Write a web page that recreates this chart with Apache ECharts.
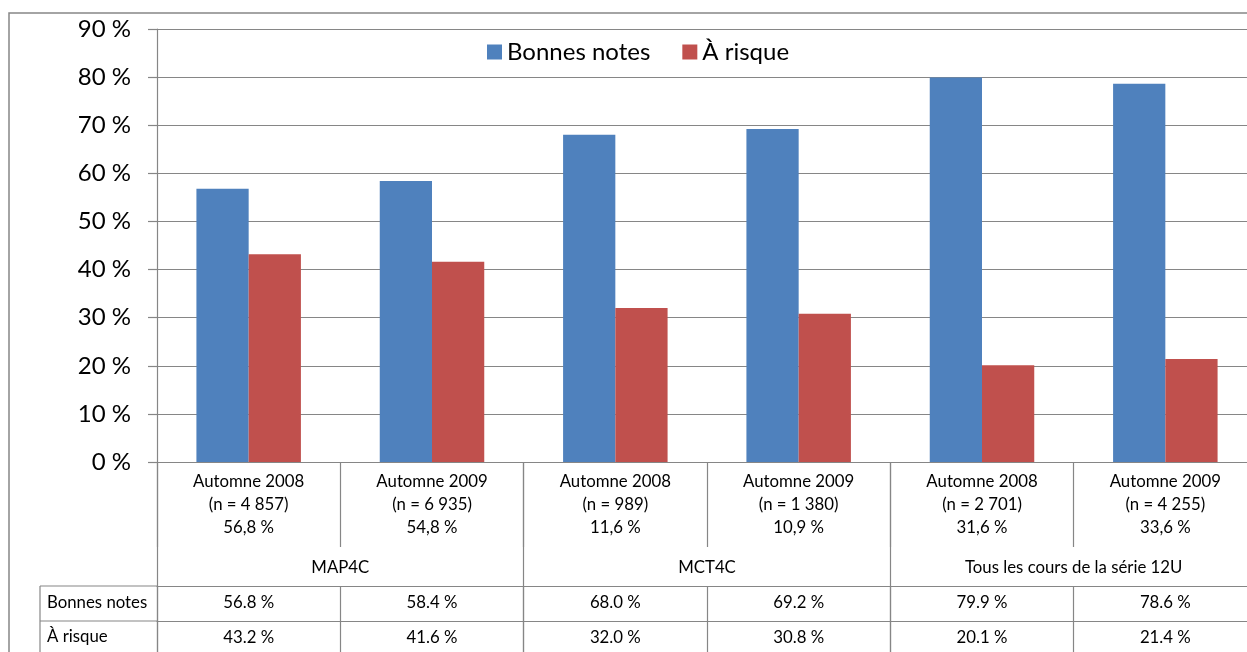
<!DOCTYPE html>
<html>
<head>
<meta charset="utf-8">
<script src="https://cdn.jsdelivr.net/npm/echarts@6/dist/echarts.min.js"></script>
<style>
html,body{margin:0;padding:0;background:#fff;}
#main{width:1247px;height:652px;}
</style>
</head>
<body>
<div id="main"></div>
<script>
const periods = ['Automne 2008','Automne 2009','Automne 2008','Automne 2009','Automne 2008','Automne 2009'];
const sampleSizes = ['4 857','6 935','989','1 380','2 701','4 255'];
const shares = ['56,8 %','54,8 %','11,6 %','10,9 %','31,6 %','33,6 %'];
const groups = ['MAP4C','MCT4C','Tous les cours de la série 12U'];
const seriesNames = ['Bonnes notes','À risque'];
const goodGrades = [56.8,58.4,68.0,69.2,79.9,78.6];
const atRisk = [43.2,41.6,32.0,30.8,20.1,21.4];

const FONT = 'Lato';
const LINE = '#868686';
const SMALL = 16.8;
const catLabels = periods.map((p,i)=>p+'\n(n = '+sampleSizes[i]+')\n'+shares[i]);
const fmt = v => v.toFixed(1)+' %';

const chart = echarts.init(document.getElementById('main'));
const tableAxis = (offset, values, tickLen) => ({
  type:'category', gridIndex:0, position:'bottom', offset:offset,
  data: values.map(fmt),
  axisLine:{show:true, lineStyle:{color:LINE, width:1.2}},
  axisTick:{show:true, interval:0, length:tickLen, lineStyle:{color:LINE, width:1.2}},
  axisLabel:{interval:0, margin:7, fontFamily:FONT, fontSize:SMALL, color:'#000', lineHeight:20},
  splitLine:{show:false}
});

chart.setOption({
  animation:false,
  textStyle:{fontFamily:FONT},
  grid:{left:157, top:29, width:1100, height:433, containLabel:false, outerBoundsMode:'none'},
  legend:{
    data:seriesNames, left:487, top:40, padding:0, itemGap:32,
    icon:'rect', itemWidth:15, itemHeight:15,
    textStyle:{fontFamily:FONT, fontSize:24, color:'#000'}
  },
  xAxis:[
    {
      type:'category', gridIndex:0, position:'bottom', data:catLabels,
      axisLine:{show:true, lineStyle:{color:LINE, width:1.2}},
      axisTick:{show:true, interval:0, length:85, lineStyle:{color:LINE, width:1.2}},
      axisLabel:{interval:0, margin:8, fontFamily:FONT, fontSize:SMALL, color:'#000', lineHeight:23}
    },
    {
      type:'category', gridIndex:0, position:'bottom', offset:0, data:groups,
      axisLine:{show:false},
      axisTick:{show:true, interval:0, length:200, lineStyle:{color:LINE, width:1.2}},
      axisLabel:{interval:0, margin:94, fontFamily:FONT, fontSize:SMALL, color:'#000', lineHeight:23}
    },
    tableAxis(124, goodGrades, 35),
    tableAxis(159, atRisk, 40)
  ],
  yAxis:{
    type:'value', min:0, max:90, interval:10,
    axisLine:{show:true, lineStyle:{color:LINE, width:1.2}},
    axisTick:{show:true, length:9, lineStyle:{color:LINE, width:1.2}},
    axisLabel:{formatter:'{value} %', margin:26, fontFamily:FONT, fontSize:24, color:'#000'},
    splitLine:{show:true, lineStyle:{color:LINE, width:1.2}}
  },
  series:[
    {name:seriesNames[0], type:'bar', xAxisIndex:0, data:goodGrades, barGap:'0%', barCategoryGap:'43%',
     itemStyle:{color:'#4F81BD'}},
    {name:seriesNames[1], type:'bar', xAxisIndex:0, data:atRisk, barGap:'0%', barCategoryGap:'43%',
     itemStyle:{color:'#C0504D'}}
  ],
  graphic:[
    {type:'rect', shape:{x:9, y:13, width:1300, height:700}, style:{fill:'none', stroke:LINE, lineWidth:1.5}, silent:true},
    {type:'line', shape:{x1:40, y1:586, x2:157, y2:586}, style:{stroke:LINE, lineWidth:1.2}},
    {type:'line', shape:{x1:40, y1:621, x2:157, y2:621}, style:{stroke:LINE, lineWidth:1.2}},
    {type:'line', shape:{x1:40, y1:586, x2:40, y2:660}, style:{stroke:LINE, lineWidth:1.2}},
    {type:'text', x:47, y:603, style:{text:seriesNames[0], fontFamily:FONT, fontSize:SMALL, fill:'#000', textVerticalAlign:'middle'}},
    {type:'text', x:47, y:637, style:{text:seriesNames[1], fontFamily:FONT, fontSize:SMALL, fill:'#000', textVerticalAlign:'middle'}}
  ]
});
</script>
</body>
</html>
